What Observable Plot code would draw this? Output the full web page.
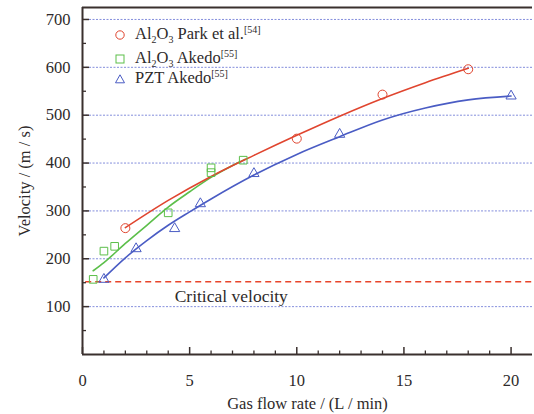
<!DOCTYPE html>
<html>
<head>
<meta charset="utf-8">
<script src="https://cdn.jsdelivr.net/npm/d3@7"></script>
<script src="https://cdn.jsdelivr.net/npm/@observablehq/plot@0.6"></script>
<style>
  body { margin: 0; background: #fff; }
  #wrap { position: relative; width: 534px; height: 414px; font-family: "Liberation Serif", "Times New Roman", "DejaVu Serif", serif; color: #2e2a2a; }
  .leg { position: absolute; left: 114px; font-size: 16.5px; line-height: 1; white-space: nowrap; }
  .leg svg { vertical-align: middle; margin-right: 9px; }
  .leg sub, .leg sup { font-size: 10px; line-height: 0; }
</style>
</head>
<body>
<div id="wrap"></div>
<script>
// ---- data ----
const parkX = [2, 10, 14, 18];
const parkY = [264, 451, 543, 596];
const akedoAlX = [0.5, 1, 1.5, 4, 6, 6, 7.5];
const akedoAlY = [157, 216, 226, 296, 390, 380, 406];
const pztX = [1, 2.5, 4.3, 5.5, 8, 12, 20];
const pztY = [157, 221, 263, 315, 378, 460, 540];

// fitted trend curves
const parkFitX = [2, 4, 6, 8, 10, 12, 14, 16, 18];
const parkFitY = [265, 322, 372, 416, 458, 498, 535, 568, 598];
const akedoAlFitX = [0.5, 1, 2, 3, 4, 5, 6, 7, 7.6];
const akedoAlFitY = [175, 192, 232, 270, 308, 340, 370, 395, 408];
const pztFitX = [1, 2, 3, 4, 5, 6, 8, 10, 12, 14, 16, 18, 20];
const pztFitY = [160, 202, 238, 270, 298, 325, 375, 418, 455, 490, 515, 532, 540];

const criticalVelocity = [152];
const criticalLabel = ["Critical velocity"];
const criticalLabelX = [4.3];

const xDomain = [0, 21];
const yDomain = [0, 725];
const xMajor = [0, 5, 10, 15, 20];
const xMinor = [1, 2, 3, 4, 6, 7, 8, 9, 11, 12, 13, 14, 16, 17, 18, 19];
const yMajor = [100, 200, 300, 400, 500, 600, 700];
const yMinor = [50, 150, 250, 350, 450, 550, 650];

const RED = "#e0452f", GREEN = "#5cbf4a", BLUE = "#4a5cc4";
const AXIS = "#3a302e";
const W = 534, H = 414, ML = 82, MR = 2, MT = 7, MB = 60;
const FW = W - ML - MR, FH = H - MT - MB;

const zip = (xs, ys) => xs.map((x, i) => ({x, y: ys[i]}));
const park = zip(parkX, parkY), akedo = zip(akedoAlX, akedoAlY), pzt = zip(pztX, pztY);
const parkFit = zip(parkFitX, parkFitY), akedoFit = zip(akedoAlFitX, akedoAlFitY), pztFit = zip(pztFitX, pztFitY);
const critText = criticalLabel.map((t, i) => ({t, x: criticalLabelX[i], y: criticalVelocity[i]}));

const chart = Plot.plot({
  width: W,
  height: H,
  marginLeft: ML,
  marginRight: MR,
  marginTop: MT,
  marginBottom: MB,
  style: {fontFamily: "'Liberation Serif', 'Times New Roman', 'DejaVu Serif', serif", fontSize: "15px", color: "#2e2a2a", background: "white"},
  x: {domain: xDomain},
  y: {domain: yDomain},
  marks: [
    Plot.gridY(yMajor, {stroke: "#6f7ad6", strokeOpacity: 0.85, strokeDasharray: "2,1.5", strokeWidth: 1}),
    Plot.ruleY(criticalVelocity, {stroke: "#e8452a", strokeWidth: 1.3, strokeDasharray: "6,4", x1: 0.15, x2: 21}),
    Plot.text(critText, {x: "x", y: "y", text: "t", textAnchor: "start", dy: 15, fontSize: 17.5, fill: "#2e2a2a"}),
    Plot.line(akedoFit, {x: "x", y: "y", curve: "monotone-x", stroke: GREEN, strokeWidth: 1.6}),
    Plot.line(parkFit, {x: "x", y: "y", curve: "monotone-x", stroke: RED, strokeWidth: 1.6}),
    Plot.line(pztFit, {x: "x", y: "y", curve: "monotone-x", stroke: BLUE, strokeWidth: 1.6}),
    Plot.dot(park, {x: "x", y: "y", symbol: "circle", r: 4.5, stroke: RED, fill: "none", strokeWidth: 1}),
    Plot.dot(akedo, {x: "x", y: "y", symbol: "square", r: 4.3, stroke: GREEN, fill: "none", strokeWidth: 1}),
    Plot.dot(pzt, {x: "x", y: "y", symbol: "triangle", r: 3.8, stroke: BLUE, fill: "none", strokeWidth: 1}),
    // axes: labels
    Plot.axisX(xMajor, {tickSize: 0, tickPadding: 20, fontSize: 16.5, label: "Gas flow rate / (L / min)", labelAnchor: "center", labelArrow: "none", labelOffset: 54}),
    Plot.axisY(yMajor, {tickSize: 0, tickPadding: 12, fontSize: 16.5, label: "Velocity / (m / s)", labelAnchor: "center", labelArrow: "none", labelOffset: 64}),
    // inward ticks (rules inset to a few pixels)
    Plot.ruleX(xMajor, {x: d => d, stroke: AXIS, strokeWidth: 1.5, insetTop: FH - 7}),
    Plot.ruleX(xMinor, {x: d => d, stroke: AXIS, strokeWidth: 1.3, insetTop: FH - 3.5}),
    Plot.ruleY(yMajor, {y: d => d, stroke: AXIS, strokeWidth: 1.5, insetRight: FW - 7}),
    Plot.ruleY(yMinor, {y: d => d, stroke: AXIS, strokeWidth: 1.3, insetRight: FW - 4}),
    // frame (left, bottom, top)
    Plot.ruleX([xDomain[0]], {stroke: AXIS, strokeWidth: 2}),
    Plot.ruleY([yDomain[0]], {stroke: AXIS, strokeWidth: 2}),
    Plot.ruleY([yDomain[1]], {stroke: AXIS, strokeWidth: 2})
  ]
});

const wrap = document.getElementById("wrap");
wrap.appendChild(chart);

// legend (HTML overlay with sub/superscripts)
const legendItems = [
  {sym: "circle", color: RED, html: "Al<sub>2</sub>O<sub>3</sub> Park et al.<sup>[54]</sup>", top: 26},
  {sym: "square", color: GREEN, html: "Al<sub>2</sub>O<sub>3</sub> Akedo<sup>[55]</sup>", top: 50},
  {sym: "triangle", color: BLUE, html: "PZT Akedo<sup>[55]</sup>", top: 70}
];
const symSvg = (s, c) => {
  const shape = s === "circle" ? `<circle cx="6" cy="6" r="4.2" fill="none" stroke="${c}"/>`
    : s === "square" ? `<rect x="2" y="2" width="8" height="8" fill="none" stroke="${c}"/>`
    : `<path d="M6,1.8 L10.5,9.8 L1.5,9.8 Z" fill="none" stroke="${c}"/>`;
  return `<svg width="12" height="12">${shape}</svg>`;
};
for (const it of legendItems) {
  const d = document.createElement("div");
  d.className = "leg";
  d.style.top = it.top + "px";
  d.innerHTML = symSvg(it.sym, it.color) + `<span>${it.html}</span>`;
  wrap.appendChild(d);
}
</script>
</body>
</html>
